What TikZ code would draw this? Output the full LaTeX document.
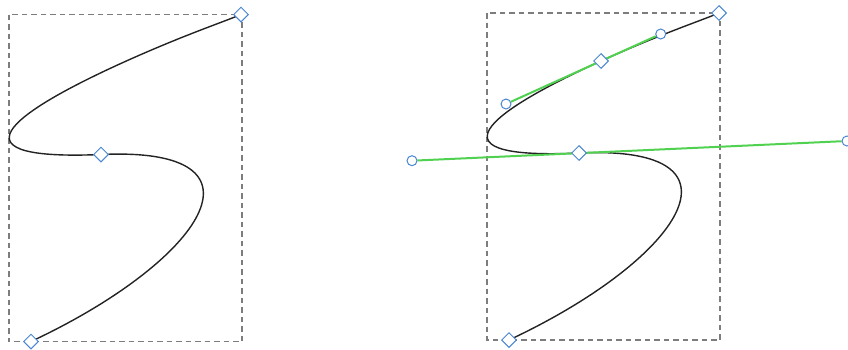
\documentclass[tikz,border=0pt]{standalone}
\usetikzlibrary{shapes.geometric}
\pgfdeclarelayer{bg}
\pgfsetlayers{bg,main}
\definecolor{hdl}{RGB}{80,210,80}
\definecolor{mk}{RGB}{74,134,210}
\definecolor{frm}{RGB}{125,125,125}
\definecolor{crv}{RGB}{35,35,35}
\tikzset{
  frame/.style={draw=frm, line width=1.1pt, dash pattern=on 5.5pt off 4pt},
  curveline/.style={draw=crv, line width=1.4pt},
  handleline/.style={draw=hdl, line width=2pt},
  knot/.style={diamond, draw=mk, fill=white, line width=1pt, inner sep=0pt, minimum width=15pt, minimum height=15pt},
  ctrl/.style={circle, draw=mk, fill=white, line width=1pt, inner sep=0pt, minimum size=10pt},
}
\begin{document}
\begin{tikzpicture}[x=1pt,y=-1pt]
\useasboundingbox (0,0) rectangle (848,349);
% ---------- left figure ----------
\begin{scope}[shift={(-478,1.5)}]
  \coordinate (lc1) at (700,21);
  \coordinate (lc2) at (660.7,34);
  \coordinate (lS) at (601,61);
  \coordinate (lh1) at (506,104);
  \coordinate (lh2) at (412,160);
  \coordinate (lk1) at (759,144.7);
  \coordinate (lk2) at (680,260);
  \coordinate (lf1) at (487,13);
  \coordinate (lf2) at (720,340);
  \node[knot] (lA) at (719,13) {};
  \node[knot] (lM) at (579,153) {};
  \node[knot] (lE) at (509,340) {};
  \begin{pgfonlayer}{bg}
    \draw[frame] (lf1) rectangle (lf2);
    \draw[curveline] (lA.center) .. controls (lc1) and (lc2) .. (lS)
      .. controls (lh1) and (lh2) .. (lM.center)
      .. controls (lk1) and (lk2) .. (lE.center);
  \end{pgfonlayer}
\end{scope}
% ---------- right figure ----------
\coordinate (rc1) at (700,21);
\coordinate (rk1) at (759,144.7);
\coordinate (rk2) at (680,260);
\coordinate (rf1) at (487,13);
\coordinate (rf2) at (720,340);
\node[knot] (rA) at (719,13) {};
\node[knot] (rS) at (601,61) {};
\node[knot] (rM) at (579,153) {};
\node[knot] (rE) at (509,340) {};
\node[ctrl] (rcu1) at (506,104) {};
\node[ctrl] (rcu2) at (660.7,34) {};
\node[ctrl] (rcl) at (412,160.7) {};
\node[ctrl] (rcr) at (847,141) {};
\begin{pgfonlayer}{bg}
  \draw[frame] (rf1) rectangle (rf2);
  \draw[curveline] (rA.center) .. controls (rc1) and (rcu2.center) .. (rS.center)
    .. controls (rcu1.center) and (rcl.center) .. (rM.center)
    .. controls (rk1) and (rk2) .. (rE.center);
  \draw[handleline] (rcu1) -- (rcu2);
  \draw[handleline] (rcl) -- (rcr);
\end{pgfonlayer}
\end{tikzpicture}
\end{document}
